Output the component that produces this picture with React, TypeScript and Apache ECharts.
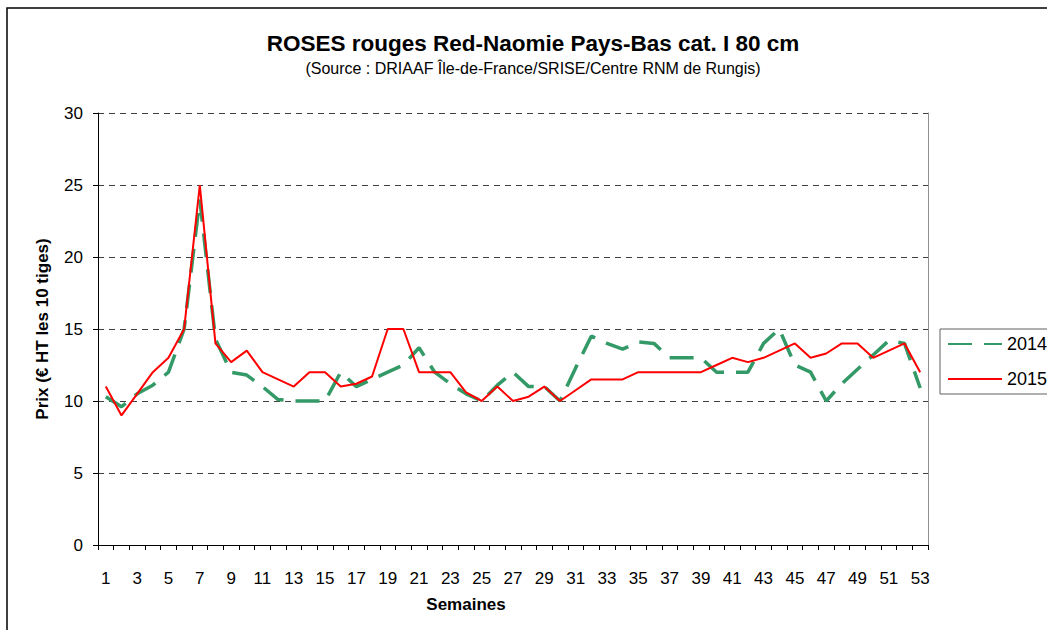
import React, { useEffect, useRef } from "react";
import * as echarts from "echarts";

const weeks: string[] = Array.from({ length: 53 }, (_, i) => String(i + 1));

const prices2014: number[] = [
  10.3, 9.6, 10.5, 11.1, 12, 15, 24, 14.3, 12, 11.8,
  11, 10.1, 10, 10, 10, 12, 11, 11.5, 12, 12.5,
  13.7, 12, 11.2, 10.5, 10, 11.1, 12, 11, 11, 10,
  12.3, 14.5, 14, 13.6, 14.1, 14, 13, 13, 13, 12,
  12, 12, 14, 15, 12.5, 12, 10, 11.2, 12.2, 13.2,
  14.2, 14, 10.9,
];

const prices2015: number[] = [
  11, 9, 10.5, 12, 13, 15, 25, 14, 12.7, 13.5,
  12, 11.5, 11, 12, 12, 11, 11.2, 11.7, 15, 15,
  12, 12, 12, 10.6, 10, 11, 10, 10.3, 11, 10,
  10.75, 11.5, 11.5, 11.5, 12, 12, 12, 12, 12, 12.5,
  13, 12.7, 13, 13.5, 14, 13, 13.3, 14, 14, 13,
  13.5, 14, 12,
];

const seriesNames: string[] = ["2014", "2015"];

const FONT = "Arial, 'Liberation Sans', sans-serif";

export default function App() {
  const ref = useRef<HTMLDivElement>(null);

  useEffect(() => {
    if (!ref.current) return;
    const chart = echarts.init(ref.current, undefined, { renderer: "svg" });
    chart.setOption({
      animation: false,
      backgroundColor: "#ffffff",
      textStyle: { fontFamily: FONT },
      graphic: [
        {
          type: "rect",
          silent: true,
          z: -10,
          shape: { x: 7, y: 8, width: 1200, height: 800 },
          style: { fill: "none", stroke: "#000", lineWidth: 1.5 },
        },
        {
          type: "text",
          x: 533,
          y: 43,
          style: {
            text: "ROSES rouges Red-Naomie Pays-Bas cat. I 80 cm",
            fontFamily: FONT,
            fontSize: 22.5,
            fontWeight: "bold",
            fill: "#000",
            textAlign: "center",
            textVerticalAlign: "middle",
          },
        },
        {
          type: "text",
          x: 533,
          y: 68,
          style: {
            text: "(Source : DRIAAF Île-de-France/SRISE/Centre RNM de Rungis)",
            fontFamily: FONT,
            fontSize: 16,
            fill: "#000",
            textAlign: "center",
            textVerticalAlign: "middle",
          },
        },
      ],
      grid: { left: 98, right: 119, top: 113, bottom: 85 },
      legend: {
        orient: "vertical",
        left: 940,
        top: 329,
        data: seriesNames,
        itemWidth: 54,
        itemHeight: 14,
        itemGap: 17,
        padding: [6, 60, 6, 7],
        borderColor: "#606060",
        borderWidth: 1,
        itemStyle: { opacity: 0 },
        textStyle: { fontSize: 18, fontFamily: FONT, color: "#000" },
      },
      xAxis: {
        type: "category",
        data: weeks,
        boundaryGap: true,
        name: "Semaines",
        nameLocation: "middle",
        nameGap: 51,
        nameTextStyle: {
          fontSize: 17,
          fontWeight: "bold",
          color: "#000",
          fontFamily: FONT,
          padding: [0, 94, 0, 0],
        },
        axisLine: { lineStyle: { color: "#000", width: 1 } },
        axisTick: { show: true, interval: 0, length: 5, lineStyle: { color: "#000" } },
        axisLabel: { interval: 1, fontSize: 17, color: "#000", margin: 25, fontFamily: FONT },
        splitLine: { show: false },
      },
      yAxis: [
        {
          type: "value",
          min: 0,
          max: 30,
          interval: 5,
          name: "Prix (€ HT les 10 tiges)",
          nameLocation: "middle",
          nameGap: 47,
          nameRotate: 90,
          nameTextStyle: { fontSize: 17, fontWeight: "bold", color: "#000", fontFamily: FONT },
          axisLine: { show: true, lineStyle: { color: "#000", width: 1 } },
          axisTick: { show: true, length: 5, lineStyle: { color: "#000" } },
          axisLabel: { fontSize: 17, color: "#000", margin: 15, fontFamily: FONT },
          splitLine: {
            show: true,
            lineStyle: { color: "#404040", width: 1, type: [6, 5] },
          },
        },
        {
          type: "value",
          position: "right",
          min: 0,
          max: 30,
          interval: 5,
          axisLine: { show: true, lineStyle: { color: "#909090", width: 1 } },
          axisTick: { show: false },
          axisLabel: { show: false },
          splitLine: { show: false },
        },
      ],
      series: [
        {
          name: seriesNames[0],
          type: "line",
          data: prices2014,
          symbol: "none",
          lineStyle: { color: "#339966", width: 3.5, type: [24, 12] },
          itemStyle: { color: "#339966" },
          z: 2,
        },
        {
          name: seriesNames[1],
          type: "line",
          data: prices2015,
          symbol: "none",
          lineStyle: { color: "#FF0000", width: 2 },
          itemStyle: { color: "#FF0000" },
          z: 3,
        },
      ],
    });
    return () => chart.dispose();
  }, []);

  return (
    <div
      ref={ref}
      style={{ position: "absolute", left: 0, top: 0, width: 1047, height: 630 }}
    />
  );
}
